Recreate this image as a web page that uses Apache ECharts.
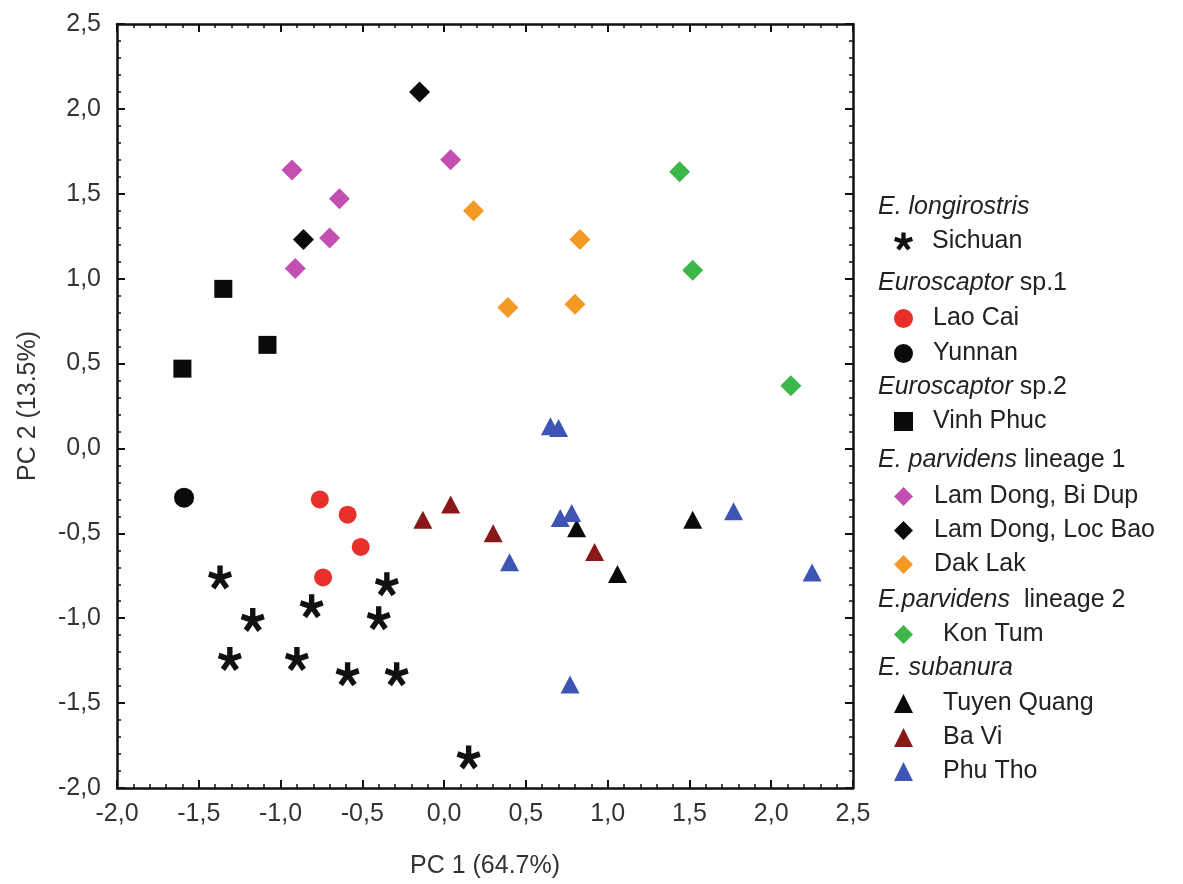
<!DOCTYPE html>
<html>
<head>
<meta charset="utf-8">
<script src="https://cdn.jsdelivr.net/npm/echarts@6/dist/echarts.min.js"></script>
<style>
html,body{margin:0;padding:0;background:#fff;}
#chart{width:1183px;height:884px;}
</style>
</head>
<body>
<div id="chart"></div>
<script>
// ---------- data (PC1, PC2) ----------
const sichuan = [[-1.37,-0.76],[-0.35,-0.80],[-1.17,-1.01],[-0.81,-0.93],[-0.40,-1.00],[-1.31,-1.24],[-0.90,-1.24],[-0.59,-1.33],[-0.29,-1.33],[0.15,-1.82]];
const laoCai = [[-0.76,-0.30],[-0.59,-0.39],[-0.51,-0.58],[-0.74,-0.76]];
const yunnan = [[-1.59,-0.29]];
const vinhPhuc = [[-1.60,0.47],[-1.35,0.94],[-1.08,0.61]];
const biDup = [[-0.93,1.64],[-0.64,1.47],[-0.70,1.24],[-0.91,1.06],[0.04,1.70]];
const locBao = [[-0.15,2.10],[-0.86,1.23]];
const dakLak = [[0.18,1.40],[0.83,1.23],[0.39,0.83],[0.80,0.85]];
const konTum = [[1.44,1.63],[1.52,1.05],[2.12,0.37]];
const tuyenQuang = [[0.81,-0.47],[1.06,-0.74],[1.52,-0.42]];
const baVi = [[-0.13,-0.42],[0.04,-0.33],[0.30,-0.50],[0.92,-0.61]];
const phuTho = [[0.65,0.13],[0.70,0.12],[0.40,-0.67],[0.71,-0.41],[0.78,-0.38],[1.77,-0.37],[2.25,-0.73],[0.77,-1.39]];

const xTitle = 'PC 1 (64.7%)';
const yTitle = 'PC 2 (13.5%)';
const xMin = -2.0, xMax = 2.5, yMin = -2.0, yMax = 2.5, tickStep = 0.5;

const groups = [
  {header: '{i|E. longirostris}', y: 207},
  {header: '{i|Euroscaptor} sp.1', y: 283},
  {header: '{i|Euroscaptor} sp.2', y: 387},
  {header: '{i|E. parvidens} lineage 1', y: 460},
  {header: '{i|E.parvidens}  lineage 2', y: 600},
  {header: '{i|E. subanura}', y: 668}
];

// ---------- styling ----------
const FONT = '"Liberation Sans", Arial, sans-serif';
const LFS = 25;

function asteriskPath(){
  const parts = [];
  const L = 48, w = 11;
  [90, 18, 162, -54, -126].forEach(a => {
    const r = a * Math.PI / 180;
    const dx = Math.cos(r), dy = -Math.sin(r);
    const nx = -dy, ny = dx;
    const pts = [
      [50 + w*nx, 50 + w*ny],
      [50 + w*nx + L*dx, 50 + w*ny + L*dy],
      [50 - w*nx + L*dx, 50 - w*ny + L*dy],
      [50 - w*nx, 50 - w*ny]
    ];
    parts.push('M' + pts.map(p => p[0].toFixed(2) + ' ' + p[1].toFixed(2)).join(' L') + ' Z');
  });
  return 'path://' + parts.join(' ');
}
const ASTER = asteriskPath();

function mk(name, data, symbol, size, color){
  return {
    name: name, type: 'scatter', data: data, symbol: symbol, symbolSize: size,
    itemStyle: {color: color, opacity: 1},
    emphasis: {disabled: true}
  };
}

const series = [
  mk('Sichuan', sichuan, ASTER, 24, '#111111'),
  mk('Lao Cai', laoCai, 'circle', 18, '#e8302a'),
  mk('Yunnan', yunnan, 'circle', 20, '#0a0a0a'),
  mk('Vinh Phuc', vinhPhuc, 'rect', 18, '#0a0a0a'),
  mk('Lam Dong, Bi Dup', biDup, 'diamond', [21,21], '#c44fb2'),
  mk('Lam Dong, Loc Bao', locBao, 'diamond', [21,21], '#0a0a0a'),
  mk('Dak Lak', dakLak, 'diamond', [21,21], '#f39a25'),
  mk('Kon Tum', konTum, 'diamond', [21,21], '#3cb84b'),
  mk('Tuyen Quang', tuyenQuang, 'triangle', [19,18], '#0a0a0a'),
  mk('Ba Vi', baVi, 'triangle', [19,18], '#8b1818'),
  mk('Phu Tho', phuTho, 'triangle', [19,18], '#3f55b5')
];

function legendBlock(names, top, pad, gap){
  return {
    orient: 'vertical', left: 894, top: top, padding: 0,
    itemWidth: 19, itemHeight: 19, itemGap: gap,
    data: names, selectedMode: false,
    textStyle: {fontFamily: FONT, fontSize: LFS, color: '#222', padding: [0,0,0,pad]}
  };
}

// item box height is ~ font line height; place by item centre
const IH = 25;
const OFF = 1.5;
const legends = [
  legendBlock(['Sichuan'], 240 - IH/2 + OFF, 14, 35 - IH),
  legendBlock(['Lao Cai','Yunnan'], 317 - IH/2 + OFF, 15, 35 - IH),
  legendBlock(['Vinh Phuc'], 420 - IH/2 + OFF, 15, 35 - IH),
  legendBlock(['Lam Dong, Bi Dup','Lam Dong, Loc Bao','Dak Lak'], 495 - IH/2 + OFF, 16, 34 - IH),
  legendBlock(['Kon Tum'], 633 - IH/2 + OFF, 25, 35 - IH),
  legendBlock(['Tuyen Quang','Ba Vi','Phu Tho'], 702 - IH/2 + OFF, 25, 34 - IH)
];

const fmt = v => v.toFixed(1).replace('.', ',');

function axisCommon(extra){
  return Object.assign({
    type: 'value', interval: tickStep,
    axisLine: {show: true, onZero: false, lineStyle: {color: '#111', width: 2.5}},
    axisTick: {show: true, inside: true, length: 8, lineStyle: {color: '#111', width: 2}},
    minorTick: {show: true, splitNumber: 5, length: 4, lineStyle: {color: '#111', width: 1.5}},
    splitLine: {show: false},
    minorSplitLine: {show: false}
  }, extra);
}
const labelStyle = {fontFamily: FONT, fontSize: 25, color: '#333', formatter: fmt};

const option = {
  backgroundColor: '#fff',
  animation: false,
  grid: {left: 117, right: 330, top: 24, bottom: 96, containLabel: false},
  xAxis: [
    axisCommon({min: xMin, max: xMax, position: 'bottom',
      name: xTitle, nameLocation: 'middle', nameGap: 66,
      nameTextStyle: {fontFamily: FONT, fontSize: 25, color: '#333'},
      axisLabel: Object.assign({margin: 14}, labelStyle)}),
    axisCommon({min: xMin, max: xMax, position: 'top', axisLabel: {show: false}})
  ],
  yAxis: [
    axisCommon({min: yMin, max: yMax, position: 'left',
      name: yTitle, nameLocation: 'middle', nameGap: 76,
      nameTextStyle: {fontFamily: FONT, fontSize: 25, color: '#333'},
      axisLabel: Object.assign({margin: 16}, labelStyle)}),
    axisCommon({min: yMin, max: yMax, position: 'right', axisLabel: {show: false}})
  ],
  legend: legends,
  graphic: groups.map(g => ({
    type: 'text', x: 878, y: g.y,
    style: {
      text: g.header, fontFamily: FONT, fontSize: LFS, fill: '#222',
      verticalAlign: 'middle', align: 'left',
      rich: {i: {fontFamily: FONT, fontSize: LFS, fontStyle: 'italic', fill: '#222'}}
    }
  })),
  series: series
};

const chart = echarts.init(document.getElementById('chart'), null, {renderer: 'canvas'});
chart.setOption(option);
</script>
</body>
</html>
